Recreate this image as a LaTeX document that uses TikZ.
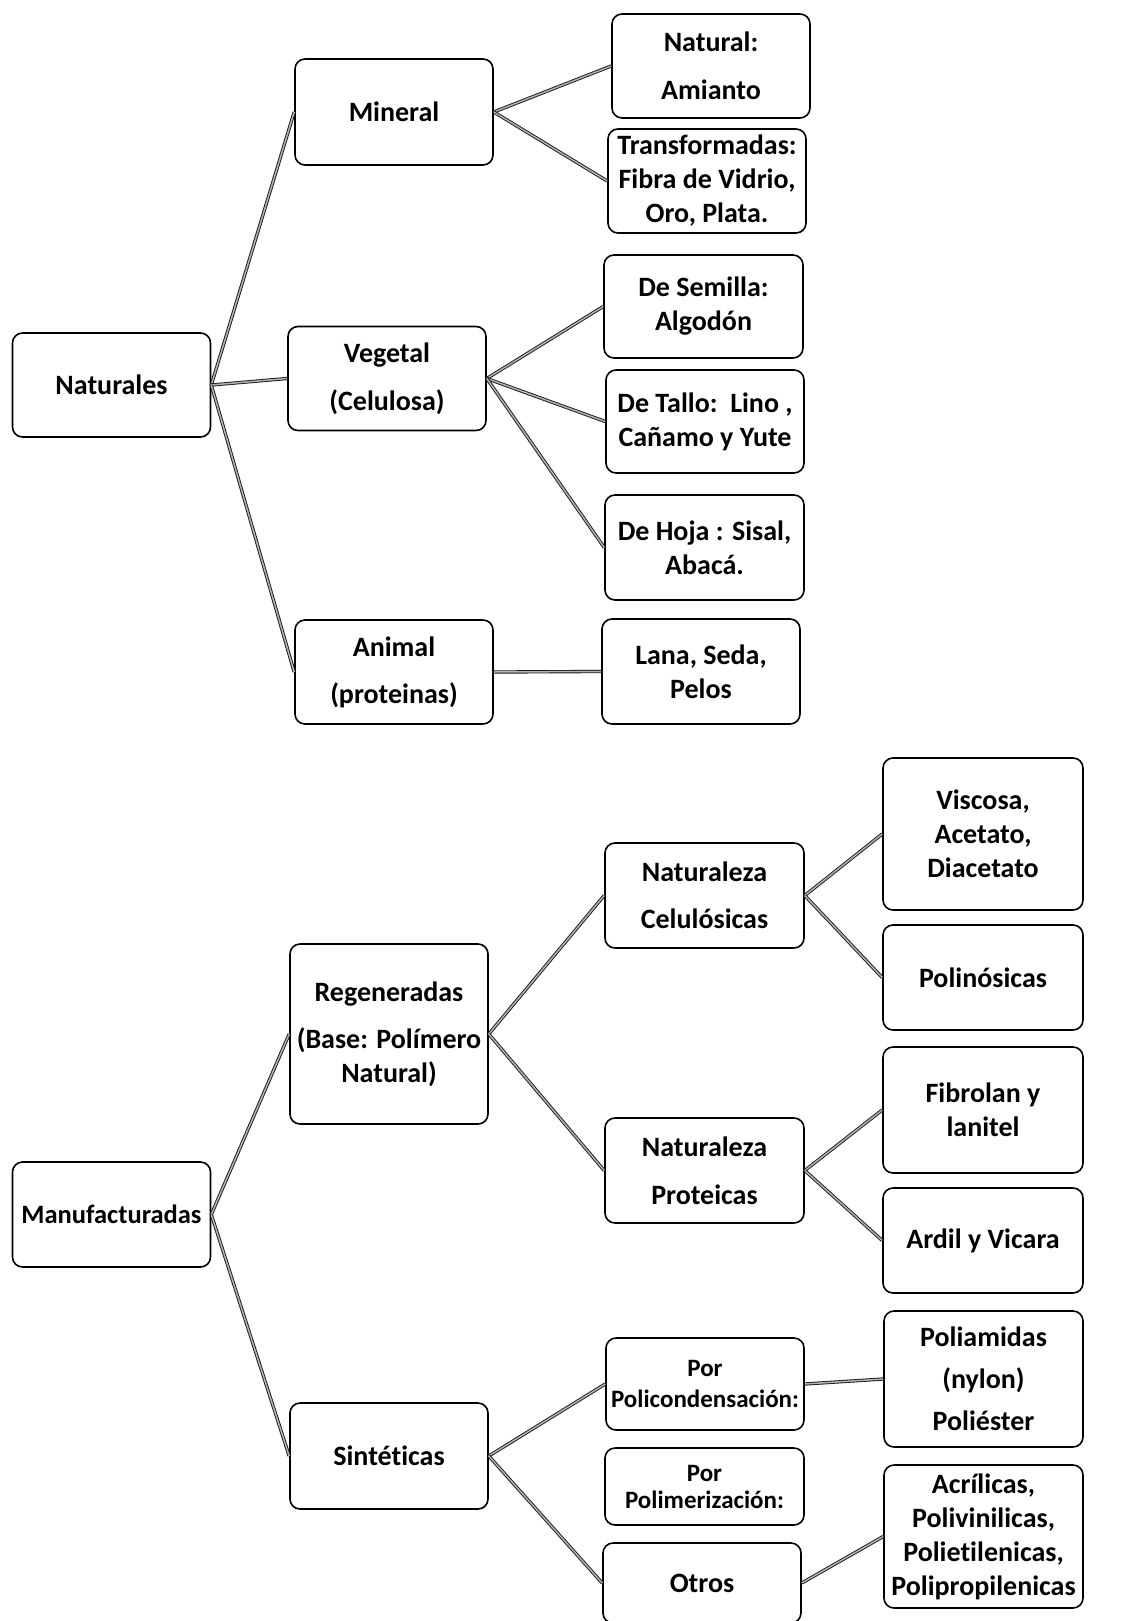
\documentclass[tikz,border=0pt]{standalone}
\usepackage{fontspec}
\setmainfont{Carlito}[Ligatures=NoCommon]
\usepackage{tikz}

\begin{document}
\begin{tikzpicture}[x=1pt, y=-1pt,
      every node/.append style={font=\fontsize{28}{34}\selectfont\bfseries},
      box/.style={draw, rounded corners=10pt, line width=1.6pt, align=center, inner sep=0pt,
        minimum width=198pt, minimum height=104pt},
      link/.style={draw=black!90, double=gray!60, double distance=1.5pt, line width=0.9pt}]
    \useasboundingbox (0,0) rectangle (1122,1621);

    \node (naturales) [box] at (111.5,385) {Naturales};
    \node (mineral) [box, minimum height=106pt] at (394,112) {Mineral};
    \node (vegetal) [box] at (387,378.5) {Vegetal\\[14pt](Celulosa)};
    \node (animal) [box] at (394,672) {Animal\\[13pt](proteinas)};
    \node (amianto) [box] at (711,66) {Natural:\\[14pt]Amianto};
    \node (transf) [box] at (707,181) {Transformadas:\\Fibra de Vidrio,\\Oro, Plata.};
    \node (semilla) [box, minimum width=199pt, minimum height=103pt] at (703.5,306.5) {De Semilla:\\Algodón};
    \node (tallo) [box, minimum height=103pt] at (705,421.5) {De Tallo:\ \ Lino ,\\Cañamo y Yute};
    \node (hoja) [box, minimum width=199pt, minimum height=105pt] at (704.5,547.5) {De Hoja : Sisal,\\Abacá.};
    \node (lana) [box, minimum height=105pt] at (701,671.5) {Lana, Seda,\\Pelos};

    \draw [link] (naturales.east) -- (mineral.west);
    \draw [link] (naturales.east) -- (vegetal.west);
    \draw [link] (naturales.east) -- (animal.west);
    \draw [link] (mineral.east) -- (amianto.west);
    \draw [link] (mineral.east) -- (transf.west);
    \draw [link] (vegetal.east) -- (semilla.west);
    \draw [link] (vegetal.east) -- (tallo.west);
    \draw [link] (vegetal.east) -- (hoja.west);
    \draw [link] (animal.east) -- (lana.west);

    \node (manuf) [box, minimum height=105pt, font=\fontsize{26.5}{32}\selectfont\bfseries] at (111.5,1214.5) {Manufacturadas};
    \node (regen) [box, minimum height=180pt] at (389,1034) {Regeneradas\\[13pt](Base: Polímero\\Natural)};
    \node (sinte) [box, minimum height=106pt] at (389,1456) {Sintéticas};
    \node (natcel) [box, minimum width=199pt, minimum height=105pt] at (704.5,895.5) {Naturaleza\\[13pt]Celulósicas};
    \node (natprot) [box, minimum width=199pt, minimum height=105pt] at (704.5,1170.5) {Naturaleza\\[14pt]Proteicas};
    \node (viscosa) [box, minimum width=200pt, minimum height=152pt] at (983,834) {Viscosa,\\Acetato,\\Diacetato};
    \node (polinos) [box, minimum width=200pt, minimum height=105pt] at (983,977.5) {Polinósicas};
    \node (fibrolan) [box, minimum width=200pt, minimum height=126pt] at (983,1110) {Fibrolan y\\lanitel};
    \node (ardil) [box, minimum width=200pt, minimum height=105pt] at (983,1240.5) {Ardil y Vicara};
    \node (policond) [box, minimum height=92pt, font=\fontsize{25}{31}\selectfont\bfseries] at (705,1384) {Por\\Policondensación:};
    \node (polimer) [box, minimum width=199pt, minimum height=77pt, font=\fontsize{25}{27}\selectfont\bfseries] at (704.5,1486.5) {Por\\Polimerización:};
    \node (otros) [box, minimum height=80pt] at (702,1583) {Otros};
    \node (poliam) [box, minimum width=199pt, minimum height=136pt] at (983.5,1379) {Poliamidas\\[8pt](nylon)\\[8pt]Poliéster};
    \node (acril) [box, minimum width=199pt, minimum height=143pt] at (983.5,1536.5) {Acrílicas,\\Polivinilicas,\\Polietilenicas,\\Polipropilenicas};

    \draw [link] (manuf.east) -- (regen.west);
    \draw [link] (manuf.east) -- (sinte.west);
    \draw [link] (regen.east) -- (natcel.west);
    \draw [link] (regen.east) -- (natprot.west);
    \draw [link] (natcel.east) -- (viscosa.west);
    \draw [link] (natcel.east) -- (polinos.west);
    \draw [link] (natprot.east) -- (fibrolan.west);
    \draw [link] (natprot.east) -- (ardil.west);
    \draw [link] (sinte.east) -- (policond.west);
    \draw [link] (sinte.east) -- (otros.west);
    \draw [link] (policond.east) -- (poliam.west);
    \draw [link] (otros.east) -- (acril.west);
\end{tikzpicture}
\end{document}
